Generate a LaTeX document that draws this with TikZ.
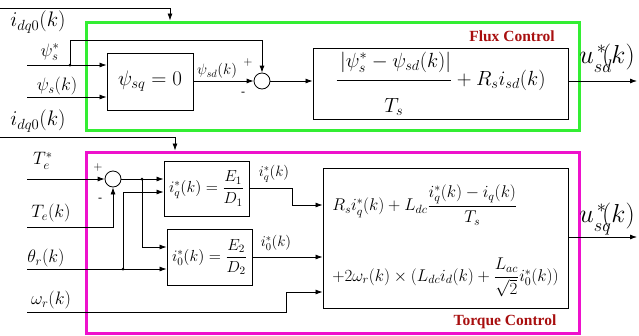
\RequirePackage{fix-cm}
\documentclass[tikz,border=0pt]{standalone}
\usepackage{amsmath}
\usepackage{fontspec}
\setmainfont{Liberation Serif}
\usetikzlibrary{arrows.meta}
\definecolor{fluxgreen}{HTML}{33EE33}
\definecolor{torqmag}{HTML}{EE11CC}
\definecolor{lbldark}{HTML}{A80F0F}
\begin{document}
\begin{tikzpicture}[x=1pt,y=-1pt,
  line width=0.8pt,
  arr/.style={-{Latex[length=7pt,width=5pt]}},
  blk/.style={draw, line width=0.9pt, inner sep=0pt, align=center},
  sumc/.style={draw, circle, minimum size=16pt, inner sep=0pt},
  lbl/.style={inner sep=0pt, font=\fontsize{18}{21}\selectfont},
  biglbl/.style={inner sep=0pt, font=\fontsize{21}{24}\selectfont},
  slbl/.style={inner sep=0pt, font=\fontsize{15}{17}\selectfont},
  sgn/.style={inner sep=0pt, font=\fontsize{12}{14}\selectfont},
  outlbl/.style={inner sep=0pt, font=\fontsize{26}{30}\selectfont},
  frame/.style={line width=3pt, inner sep=0pt},
  ftitle/.style={inner sep=0pt, text=lbldark, font=\bfseries\fontsize{15.5}{17}\selectfont},
  dot/.style={circle, fill, inner sep=0pt, minimum size=3pt}
]
\useasboundingbox (0,0) rectangle (639,335);

% frames
\node[frame, draw=fluxgreen, minimum width=493pt, minimum height=108pt] (fluxframe) at (332.5,76) {};
\node[frame, draw=torqmag, minimum width=493pt, minimum height=181pt] (torqframe) at (332.5,242.5) {};
\node[ftitle] (fluxtitle) at (512,36) {Flux Control};
\node[ftitle] (torqtitle) at (505,322) {Torque Control};

% ---------- flux part ----------
\node[biglbl] (Lidq1) at (38,22) {$i_{dq0}(k)$};
\node[lbl] (Lpsis) at (50,52) {$\psi_s^{*}$};
\node[lbl] (Lpsik) at (57,86) {$\psi_s(k)$};

\node[blk, minimum width=86pt, minimum height=57pt] (psibox) at (150,81.5)
  {\fontsize{21}{24}\selectfont$\psi_{sq}=0$};
\node[sumc] (s1) at (262,81) {};
\node[blk, minimum width=255pt, minimum height=71pt] (fbox) at (440.5,83.5)
  {\fontsize{20.5}{24}\selectfont$\dfrac{\rule[-10pt]{0pt}{22pt}\left|\psi_s^{*}-\psi_{sd}(k)\right|}{\rule{0pt}{29pt}T_s}+R_s i_{sd}(k)$};

\coordinate (idqA) at (0,8);
\coordinate (idqB) at (170,8);
\coordinate (inPs) at (27,65);
\coordinate (inPk) at (27,97);
\node[dot] (d1) at (70,65) {};
\coordinate (fbup) at (262,40);
\coordinate (fout) at (637,81);

\draw[arr] (idqA) -- (idqB) -- (idqB |- fluxframe.north);
\draw[arr] (inPs) -- (inPs -| psibox.west);
\draw[arr] (inPk) -- (inPk -| psibox.west);
\draw[arr] (d1.center) |- (fbup) -- (s1.north);
\draw[arr] (psibox.east |- s1) -- (s1.west);
\draw[arr] (s1.east) -- (s1 -| fbox.west);
\draw[arr] (s1 -| fbox.east) -- (fout);

\node[slbl] (Lpsd) at (217,71) {$\psi_{sd}(k)$};
\node[sgn] (p1) at (248,62) {$+$};
\node[sgn] (m1) at (243,94) {-};
\node[outlbl, anchor=base west] (usd) at (579,63)
  {$u\rlap{\raisebox{-9pt}{$\scriptstyle sd$}}{}^{\,*}\!(k)$};

% ---------- torque part ----------
\node[biglbl] (Lidq2) at (38,121) {$i_{dq0}(k)$};
\node[lbl] (LTe) at (43,161) {$T_e^{*}$};
\node[lbl] (LTek) at (51,213) {$T_e(k)$};
\node[lbl] (Lth) at (46,258) {$\theta_r(k)$};
\node[lbl] (Lom) at (51,300) {$\omega_r(k)$};

\node[sumc] (s2) at (113,179) {};
\node[blk, minimum width=85pt, minimum height=55pt] (b1) at (206.5,188.5)
  {\fontsize{16}{19}\selectfont$i_q^{*}(k)=\dfrac{E_1}{D_1}$};
\node[blk, minimum width=85pt, minimum height=56pt] (b2) at (209.5,257)
  {\fontsize{16}{19}\selectfont$i_0^{*}(k)=\dfrac{E_2}{D_2}$};
\node[blk, minimum width=245pt, minimum height=140pt, align=left] (tbox) at (445.5,238)
  {\fontsize{17}{20}\selectfont\rule{0pt}{32pt}$R_s i_q^{*}(k)+L_{dc}\dfrac{i_q^{*}(k)-i_q(k)}{T_s}$\\[32pt]
   \fontsize{17}{20}\selectfont$+2\omega_r(k)\times(L_{dc}i_d(k)+\dfrac{L_{ac}}{\sqrt{2}}i_0^{*}(k))$};

\coordinate (idqC) at (0,137);
\coordinate (idqD) at (175,137);
\coordinate (inTe) at (27,179);
\coordinate (inTk) at (27,227);
\coordinate (inTh) at (27,269);
\coordinate (inOm) at (27,312);
\node[dot] (d2) at (142,179) {};
\node[dot] (d3) at (123,269) {};
\coordinate (b2in) at (142,247);
\coordinate (b1in) at (123,192);
\coordinate (iqA) at (292,188);
\coordinate (iqB) at (292,205);
\coordinate (omA) at (286,312);
\coordinate (omB) at (286,292);
\coordinate (tout) at (637,237);

\draw[arr] (idqC) -- (idqD) -- (idqD |- torqframe.north);
\draw[arr] (inTe) -- (s2.west);
\draw[arr] (inTk) -| (s2.south);
\draw[arr] (s2.east) -- (s2 -| b1.west);
\draw[arr] (d2.center) |- (b2in -| b2.west);
\draw[arr] (inTh) -- (inTh -| b2.west);
\draw[arr] (d3.center) |- (b1in -| b1.west);
\draw[arr] (iqA -| b1.east) -- (iqA) -- (iqB) -- (iqB -| tbox.west);
\draw[arr] (b2.east |- 0,257) -- (tbox.west |- 0,257);
\draw[arr] (inOm) -- (omA) -- (omB) -- (omB -| tbox.west);
\draw[arr] (tout -| tbox.east) -- (tout);

\node[sgn] (p2) at (98,167) {$+$};
\node[sgn] (m2) at (100,200) {-};
\node[slbl] (Liq) at (274,174) {$i_q^{*}(k)$};
\node[slbl] (Li0) at (276,243) {$i_0^{*}(k)$};
\node[outlbl, anchor=base west] (usq) at (579,222)
  {$u\rlap{\raisebox{-9pt}{$\scriptstyle sq$}}{}^{\,*}\!(k)$};
\end{tikzpicture}
\end{document}
